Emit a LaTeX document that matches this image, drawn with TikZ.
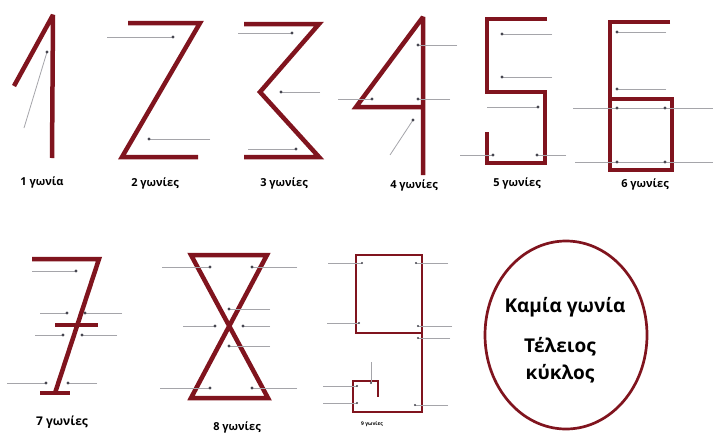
\documentclass[tikz,border=0pt]{standalone}
\usepackage{fontspec}
\setmainfont{Open Sans}
\definecolor{digitred}{RGB}{128,20,30}
\definecolor{guidegray}{RGB}{165,165,170}
\definecolor{dotgray}{RGB}{70,70,80}

\begin{document}
\begin{tikzpicture}[
	x=1pt, y=-1pt,
	stroke/.style={draw=digitred, line width=4.5pt, miter limit=2.5},
	thinstroke/.style={draw=digitred, line width=2.8pt, miter limit=2.5},
	guide/.style={draw=guidegray, line width=0.8pt},
	tip/.style={fill=dotgray},
	caption/.style={font=\bfseries\fontsize{11}{13}\selectfont, inner sep=0pt},
	bigtext/.style={font=\bfseries\fontsize{19}{27}\selectfont, inner sep=0pt, align=center}
]
\useasboundingbox (0,0) rectangle (714,434);
\fill[white] (0,0) rectangle (714,434);

% Digit 1
\draw[stroke] (14,86) -- (53,15) -- (52,158);
\draw[guide] (24,128) -- (47,52);
\fill[tip] (47,52) circle (1.6pt);
\node[caption] (cap1) at (42,182) {1 γωνία};

% Digit 2
\draw[stroke] (128,23) -- (200,23) -- (122,157) -- (198,157);
\draw[guide] (107,37) -- (173,37);
\draw[guide] (210,139) -- (149,139);
\foreach \p in {(173,37),(149,139)} \fill[tip] \p circle (1.6pt);
\node[caption] (cap2) at (155,183) {2 γωνίες};

% Digit 3
\draw[stroke] (244,24) -- (319,24) -- (260,92) -- (319,157) -- (244,157);
\draw[guide] (238,33) -- (292,33);
\draw[guide] (320,92) -- (281,92);
\draw[guide] (248,149) -- (296,149);
\foreach \p in {(292,33),(281,92),(296,149)} \fill[tip] \p circle (1.6pt);
\node[caption] (cap3) at (284,183) {3 γωνίες};

% Digit 4
\draw[stroke] (423,175) -- (423,17) -- (356,107) -- (425,107);
\draw[guide] (457,45) -- (418,45);
\draw[guide] (338,99) -- (372,99);
\draw[guide] (450,99) -- (418,99);
\draw[guide] (390,155) -- (413,120);
\foreach \p in {(418,45),(372,99),(418,99),(413,120)} \fill[tip] \p circle (1.6pt);
\node[caption] (cap4) at (414,185) {4 γωνίες};

% Digit 5
\draw[stroke] (547,19) -- (487,19) -- (487,92) -- (545,92) -- (545,163) -- (487,163) -- (487,132);
\draw[guide] (552,34) -- (502,34);
\draw[guide] (552,77) -- (502,77);
\draw[guide] (487,107) -- (538,107);
\draw[guide] (460,155) -- (493,155);
\draw[guide] (566,155) -- (537,155);
\foreach \p in {(502,34),(502,77),(538,107),(493,155),(537,155)} \fill[tip] \p circle (1.6pt);
\node[caption] (cap5) at (517,183) {5 γωνίες};

% Digit 6
\draw[stroke] (670,22) -- (610,22) -- (610,170) -- (672,170) -- (672,99) -- (610,99);
\draw[guide] (666,32) -- (617,32);
\draw[guide] (666,89) -- (617,89);
\draw[guide] (573,108) -- (713,108);
\draw[guide] (575,162) -- (713,162);
\foreach \p in {(617,32),(617,89),(617,108),(665,108),(617,162),(665,162)} \fill[tip] \p circle (1.6pt);
\node[caption] (cap6) at (645,184) {6 γωνίες};

% Digit 7
\draw[stroke] (32,259) -- (99,259) -- (55,393);
\draw[stroke] (40,393) -- (70,393);
\draw[stroke] (55,325) -- (98,325);
\draw[guide] (32,271) -- (76,271);
\draw[guide] (40,313) -- (67,313);
\draw[guide] (122,313) -- (85,313);
\draw[guide] (35,335) -- (63,335);
\draw[guide] (117,335) -- (82,335);
\draw[guide] (7,383) -- (46,383);
\draw[guide] (97,383) -- (68,383);
\foreach \p in {(76,271),(67,313),(85,313),(63,335),(82,335),(46,383),(68,383)} \fill[tip] \p circle (1.6pt);
\node[caption, font=\bfseries\fontsize{12}{14}\selectfont] (cap7) at (62,422) {7 γωνίες};

% Digit 8
\draw[stroke] (191,255) -- (267,255) -- (191,398) -- (268,398) -- cycle;
\draw[guide] (162,267) -- (210,267);
\draw[guide] (297,267) -- (252,267);
\draw[guide] (270,309) -- (229,309);
\draw[guide] (183,326) -- (215,326);
\draw[guide] (270,326) -- (243,326);
\draw[guide] (270,346) -- (229,346);
\draw[guide] (160,388) -- (210,388);
\draw[guide] (297,388) -- (252,388);
\foreach \p in {(210,267),(252,267),(229,309),(215,326),(243,326),(229,346),(210,388),(252,388)} \fill[tip] \p circle (1.6pt);
\node[caption] (cap8) at (237,427) {8 γωνίες};

% Digit 9
\draw[thinstroke] (422,333) -- (356,333) -- (356,255) -- (422,255) -- (422,412) -- (353,412) -- (353,381) -- (378,381) -- (378,397);
\draw[guide] (328,263) -- (362,263);
\draw[guide] (448,263) -- (416,263);
\draw[guide] (327,323) -- (359,323);
\draw[guide] (452,326) -- (418,326);
\draw[guide] (450,338) -- (418,338);
\draw[guide] (371,362) -- (371,383);
\draw[guide] (323,386) -- (357,386);
\draw[guide] (323,403) -- (357,403);
\draw[guide] (448,405) -- (415,405);
\foreach \p in {(362,263),(416,263),(359,323),(418,326),(418,338),(371,383),(357,386),(357,403),(415,405)} \fill[tip] \p circle (1.2pt);
\node[caption, font=\bfseries\fontsize{5}{6}\selectfont] (cap9) at (372,424) {9 γωνίες};

% No corners: the circle
\draw[draw=digitred, line width=2.7pt] (566,335) ellipse [x radius=81, y radius=94];
\node[bigtext] (none) at (565,307) {Καμία γωνία};
\node[bigtext] (perfect) at (560,360) {Τέλειος\\κύκλος};

\end{tikzpicture}
\end{document}
